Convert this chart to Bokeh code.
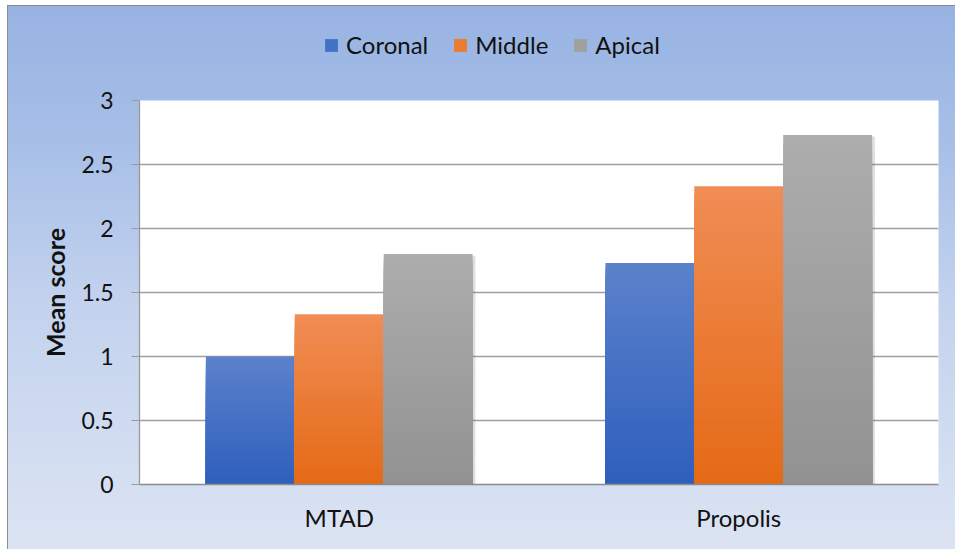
from bokeh.plotting import figure
from bokeh.layouts import column
from bokeh.models import FactorRange, Range1d, Legend, LegendItem, ColumnDataSource, FixedTicker
from bokeh.transform import dodge
from bokeh.embed import file_html
from bokeh.resources import INLINE

# ---- data ----
groups = ["MTAD", "Propolis"]
series = ["Coronal", "Middle", "Apical"]
coronal = [1.00, 1.73]
middle = [1.33, 2.33]
apical = [1.80, 2.73]
y_ticks = [0, 0.5, 1, 1.5, 2, 2.5, 3]
y_label = "Mean score"

# ---- style ----
FONT = "Lato"
TXT = "#111111"
top_cols = ["#5b82cb", "#f08d55", "#adadad"]
bot_cols = ["#2e5fbd", "#e56a16", "#929292"]
mid_cols = ["#4371c6", "#ec7a30", "#a0a0a0"]
offsets = [-0.2225, 0.0, 0.2225]
BAR_W = 0.2225
N = 40
W = 947
H_TOP = 80
H_MAIN = 463


def hex2rgb(h):
    h = h.lstrip("#")
    return [int(h[i:i + 2], 16) for i in (0, 2, 4)]


def lerp(c1, c2, t):
    a, b = hex2rgb(c1), hex2rgb(c2)
    return "#%02x%02x%02x" % tuple(int(round(a[i] + (b[i] - a[i]) * t)) for i in range(3))


# ---- legend strip (top figure) ----
top = figure(width=W, height=H_TOP, x_range=Range1d(0, 1), y_range=Range1d(0, 1),
             x_axis_type=None, y_axis_type=None, output_backend="svg", toolbar_location=None,
             min_border=0)
top.border_fill_alpha = 0
top.background_fill_alpha = 0
top.outline_line_color = None
top.grid.visible = False

leg_renderers = []
for s_idx in range(len(series)):
    # proxy glyph outside the visible range, only used for the legend swatch
    src = ColumnDataSource(dict(x=[-10.0], t=[-10.0]))
    leg_renderers.append(top.vbar(x="x", top="t", width=0.1, fill_color=mid_cols[s_idx],
                                  line_color=None, source=src))

legend = Legend(items=[LegendItem(label=s, renderers=[r]) for s, r in zip(series, leg_renderers)],
                orientation="horizontal", location=(184, 27),
                glyph_width=16, glyph_height=16, label_standoff=7, spacing=24,
                padding=0, margin=0, background_fill_alpha=0, border_line_alpha=0,
                label_text_font=FONT, label_text_font_size="24px", label_text_color=TXT)
top.add_layout(legend)

# ---- main chart ----
p = figure(x_range=FactorRange(*groups, range_padding=0), y_range=Range1d(0, 3),
           width=W, height=H_MAIN, output_backend="svg", toolbar_location=None,
           min_border_left=131, min_border_right=17, min_border_top=14, min_border_bottom=65)
p.border_fill_alpha = 0
p.background_fill_color = "white"
p.outline_line_color = None

all_vals = [coronal, middle, apical]

# soft shadows
for s_idx, vals in enumerate(all_vals):
    src = ColumnDataSource(dict(g=groups, top=[v - 0.012 for v in vals]))
    p.vbar(x=dodge("g", offsets[s_idx] + 0.007, range=p.x_range), top="top", bottom=0,
           width=BAR_W, fill_color="#000000", fill_alpha=0.13, line_color=None, source=src)

# gradient bars
for s_idx, vals in enumerate(all_vals):
    xs, tops, cols = [], [], []
    for g, v in zip(groups, vals):
        for k in range(N):
            xs.append(g)
            tops.append(v * (N - k) / N)
            t = (N - k - 0.5) / N
            cols.append(lerp(bot_cols[s_idx], top_cols[s_idx], t))
    src = ColumnDataSource(dict(g=xs, top=tops, col=cols))
    p.vbar(x=dodge("g", offsets[s_idx], range=p.x_range), top="top", bottom=0, width=BAR_W,
           fill_color="col", line_color=None, source=src)

# grid
p.xgrid.grid_line_color = None
p.ygrid.grid_line_color = "#a0a0a0"
p.ygrid.grid_line_width = 1.3
p.ygrid.ticker = FixedTicker(ticks=y_ticks)

# y axis
p.yaxis.ticker = FixedTicker(ticks=y_ticks)
p.yaxis.axis_label = y_label
p.yaxis.axis_label_text_font = FONT
p.yaxis.axis_label_text_font_style = "bold"
p.yaxis.axis_label_text_font_size = "25px"
p.yaxis.axis_label_text_color = TXT
p.yaxis.axis_label_standoff = 8
p.yaxis.major_label_text_font = FONT
p.yaxis.major_label_text_font_size = "23px"
p.yaxis.major_label_text_color = TXT
p.yaxis.major_label_standoff = 18
p.yaxis.major_tick_out = 8
p.yaxis.major_tick_in = 0
p.yaxis.minor_tick_line_color = None
p.yaxis.axis_line_color = "#9a9a9a"
p.yaxis.major_tick_line_color = "#9a9a9a"
p.yaxis.axis_line_width = 1.3

# x axis
p.xaxis.major_label_text_font = FONT
p.xaxis.major_label_text_font_size = "24px"
p.xaxis.major_label_text_color = TXT
p.xaxis.major_label_standoff = 12
p.xaxis.major_tick_line_color = None
p.xaxis.minor_tick_line_color = None
p.xaxis.axis_line_color = "#8c8c8c"
p.xaxis.axis_line_width = 1.5

layout = column(top, p, spacing=0)
layout.styles = {"background": "linear-gradient(to bottom, #98b3e3 0%, #a7bfe7 25%, #c3d2ee 55%, #dce4f3 100%)",
                 "border-left": "1px solid #8c8c8c", "border-top": "1px solid #8c8c8c",
                 "margin-left": "7px", "margin-top": "5px"}

open("out.html", "w").write(file_html(layout, INLINE))
